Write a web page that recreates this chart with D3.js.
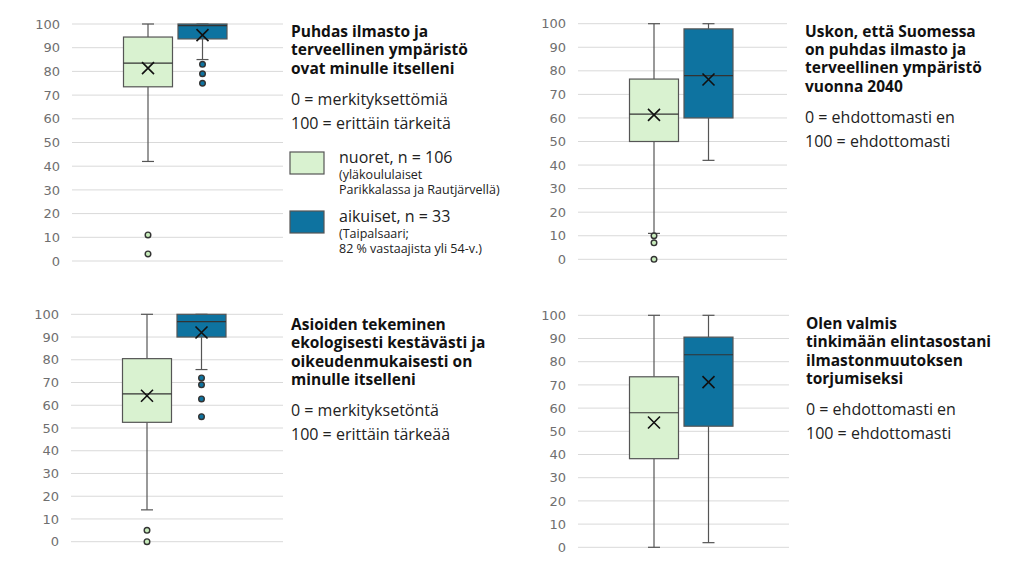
<!DOCTYPE html>
<html>
<head>
<meta charset="utf-8">
<script src="https://cdn.jsdelivr.net/npm/d3@7"></script>
<style>
  body { margin: 0; background: #fff; }
  svg { display: block; }
</style>
</head>
<body>
<div class="board"></div>
<script>
// box plot stats per panel
// panel order: top-left, top-right, bottom-left, bottom-right
var groups = ["nuoret", "aikuiset"];
var ticks = [0, 10, 20, 30, 40, 50, 60, 70, 80, 90, 100];

var youthMin = [42, 11, 14, 0];
var youthQ1 = [73.5, 50, 52.5, 38.2];
var youthMedian = [83.5, 61.6, 65, 58];
var youthQ3 = [94.5, 76.5, 80.5, 73.5];
var youthMax = [100, 100, 100, 100];
var youthMean = [81.4, 61.3, 64.2, 53.8];
var youthOutliers = [[11, 3], [10, 7, 0], [5, 0], []];

var adultMin = [85, 42, 75.7, 2];
var adultQ1 = [93.7, 60, 90, 52.2];
var adultMedian = [99.3, 78, 96.8, 83];
var adultQ3 = [100, 97.8, 100, 90.6];
var adultMax = [100, 100, 100, 100];
var adultMean = [95.3, 76.3, 92, 71.2];
var adultOutliers = [[83, 79, 75], [], [72, 69, 62.8, 55], []];

var titles = [
  ["Puhdas ilmasto ja", "terveellinen ympäristö", "ovat minulle itselleni"],
  ["Uskon, että Suomessa", "on puhdas ilmasto ja", "terveellinen ympäristö", "vuonna 2040"],
  ["Asioiden tekeminen", "ekologisesti kestävästi ja", "oikeudenmukaisesti on", "minulle itselleni"],
  ["Olen valmis", "tinkimään elintasostani", "ilmastonmuutoksen", "torjumiseksi"]
];
var scaleNotes = [
  ["0 = merkityksettömiä", "100 = erittäin tärkeitä"],
  ["0 = ehdottomasti en", "100 = ehdottomasti"],
  ["0 = merkityksetöntä", "100 = erittäin tärkeää"],
  ["0 = ehdottomasti en", "100 = ehdottomasti"]
];
var legendLabels = ["nuoret, n = 106", "aikuiset, n = 33"];
var legendNotes = [["(yläkoululaiset", "Parikkalassa ja Rautjärvellä)"], ["(Taipalsaari;", "82 % vastaajista yli 54-v.)"]];

var fills = { nuoret: "#d9f2d0", aikuiset: "#0e73a0" };
var font = "'Open Sans'";

// layout of the four plots
var panelInfo = [
  { left: 72, right: 283, top: 24, bottom: 261, textX: 291, titleY: 37, noteY: 104.5 },
  { left: 578, right: 787, top: 23.7, bottom: 259.3, textX: 805, titleY: 36.5, noteY: 122.5 },
  { left: 71, right: 283, top: 314.3, bottom: 541.7, textX: 291, titleY: 330, noteY: 415.5 },
  { left: 578, right: 789, top: 315.3, bottom: 547.3, textX: 806, titleY: 329, noteY: 414.5 }
];

var svg = d3.select(".board").append("svg")
  .attr("width", 1024)
  .attr("height", 576);

var boxWidth = 49;

panelInfo.forEach(function(p, i) {
  var y = d3.scaleLinear().domain([0, 100]).range([p.bottom, p.top]);
  var x = d3.scalePoint().domain(groups).range([p.left + 76, p.left + 130.5]);
  var g = svg.append("g");

  // gridlines
  g.selectAll(".grid").data(ticks).enter().append("line")
    .attr("x1", p.left).attr("x2", p.right)
    .attr("y1", function(d) { return y(d); })
    .attr("y2", function(d) { return y(d); })
    .attr("stroke", "#d9d9d9").attr("stroke-width", 1);

  var axis = d3.axisLeft(y).tickValues(ticks).tickSize(0).tickPadding(12);
  var ax = g.append("g").attr("transform", "translate(" + p.left + ",0)").call(axis);
  ax.select(".domain").remove();
  ax.selectAll("text")
    .attr("fill", "#6f6f6f")
    .style("font-family", "DejaVu Sans")
    .style("font-size", "13px");

  var stats = [
    { key: "nuoret", min: youthMin[i], q1: youthQ1[i], med: youthMedian[i], q3: youthQ3[i], max: youthMax[i], mean: youthMean[i], out: youthOutliers[i] },
    { key: "aikuiset", min: adultMin[i], q1: adultQ1[i], med: adultMedian[i], q3: adultQ3[i], max: adultMax[i], mean: adultMean[i], out: adultOutliers[i] }
  ];

  stats.forEach(function(s) {
    var cx = x(s.key);
    var stroke = "#555";
    // whiskers
    g.append("line").attr("x1", cx).attr("x2", cx).attr("y1", y(s.max)).attr("y2", y(s.q3))
      .attr("stroke", stroke).attr("stroke-width", 1.2);
    g.append("line").attr("x1", cx).attr("x2", cx).attr("y1", y(s.q1)).attr("y2", y(s.min))
      .attr("stroke", stroke).attr("stroke-width", 1.2);
    [s.max, s.min].forEach(function(v) {
      g.append("line").attr("x1", cx - 6).attr("x2", cx + 6).attr("y1", y(v)).attr("y2", y(v))
        .attr("stroke", stroke).attr("stroke-width", 1.2);
    });
    // box
    g.append("rect")
      .attr("x", cx - boxWidth / 2).attr("width", boxWidth)
      .attr("y", y(s.q3)).attr("height", y(s.q1) - y(s.q3))
      .attr("fill", fills[s.key]).attr("stroke", stroke).attr("stroke-width", 1.2);
    g.append("line").attr("x1", cx - boxWidth / 2).attr("x2", cx + boxWidth / 2)
      .attr("y1", y(s.med)).attr("y2", y(s.med))
      .attr("stroke", "#333").attr("stroke-width", 1.2);
    // mean X
    var my = y(s.mean);
    g.append("path")
      .attr("d", "M" + (cx - 6) + "," + (my - 6) + "L" + (cx + 6) + "," + (my + 6) +
                 "M" + (cx + 6) + "," + (my - 6) + "L" + (cx - 6) + "," + (my + 6))
      .attr("stroke", "#111").attr("stroke-width", 1.6).attr("fill", "none");
    // outliers
    g.selectAll(".out-" + s.key).data(s.out).enter().append("circle")
      .attr("cx", cx).attr("cy", function(d) { return y(d); })
      .attr("r", 2.8)
      .attr("fill", s.key === "nuoret" ? "#c8ecbc" : fills[s.key])
      .attr("stroke", "#333").attr("stroke-width", 1.4);
  });

  // title and scale explanation
  var t = g.append("text")
    .attr("x", p.textX).attr("y", p.titleY)
    .style("font-family", font).style("font-weight", "bold").style("font-size", "15.5px")
    .attr("fill", "#111");
  t.selectAll("tspan").data(titles[i]).enter().append("tspan")
    .attr("x", p.textX).attr("dy", function(d, j) { return j === 0 ? 0 : 18.4; })
    .text(function(d) { return d; });

  g.selectAll(".note").data(scaleNotes[i]).enter().append("text")
    .attr("x", p.textX).attr("y", function(d, j) { return p.noteY + j * 24.5; })
    .style("font-family", font).style("font-size", "16px")
    .attr("fill", "#222")
    .text(function(d) { return d; });
});

// legend
var legendY = [152, 211];
groups.forEach(function(key, k) {
  svg.append("rect")
    .attr("x", 290).attr("y", legendY[k]).attr("width", 34).attr("height", 22)
    .attr("fill", fills[key]).attr("stroke", "#555").attr("stroke-width", 1.2);
  svg.append("text")
    .attr("x", 339).attr("y", legendY[k] + 11)
    .style("font-family", font).style("font-size", "16px").attr("fill", "#222")
    .text(legendLabels[k]);
  legendNotes[k].forEach(function(line, j) {
    svg.append("text")
      .attr("x", 339).attr("y", legendY[k] + 27 + j * 14.5)
      .style("font-family", font).style("font-size", "12.5px").attr("fill", "#222")
      .text(line);
  });
});
</script>
</body>
</html>
